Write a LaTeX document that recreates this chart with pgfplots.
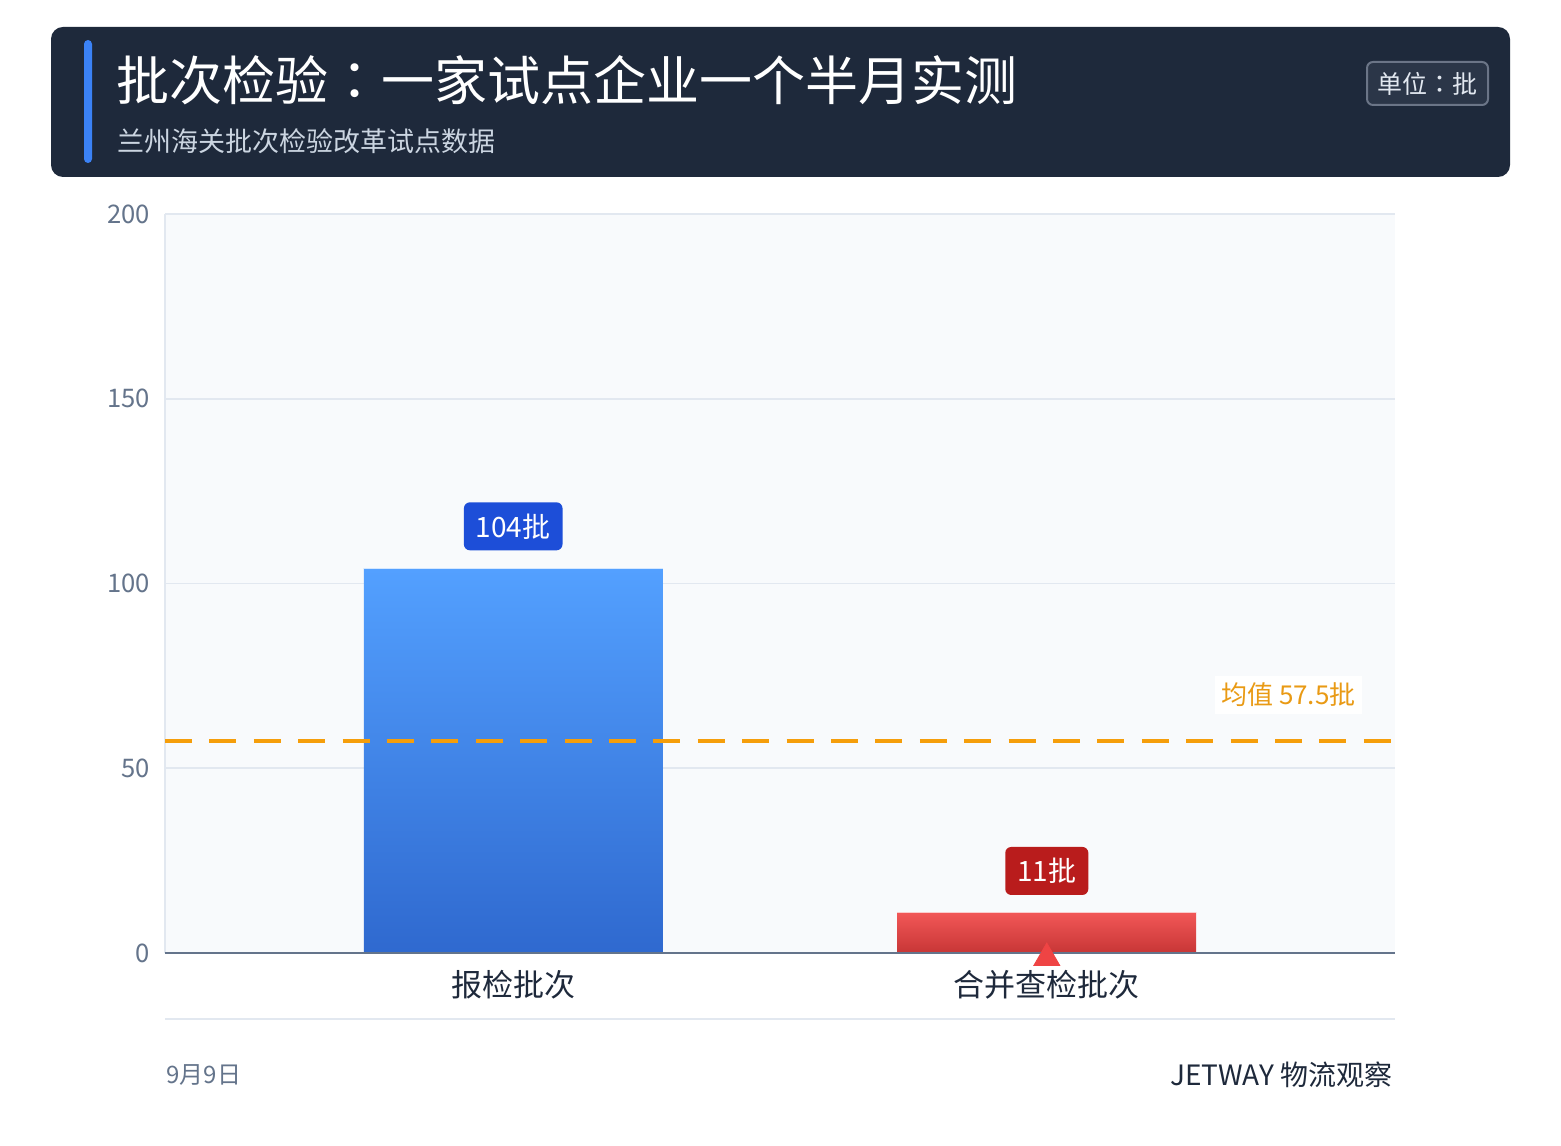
\documentclass[border=0pt]{standalone}
\usepackage{fontspec}
\setmainfont{Noto Sans CJK SC}
\newfontfamily\tcfont{Noto Sans CJK TC}
\usepackage{pgfplots}
\pgfplotsset{compat=1.18}
\definecolor{headc}{HTML}{1E293B}
\definecolor{accent}{HTML}{3B82F6}
\definecolor{blbox}{HTML}{1D4ED8}
\definecolor{rdbox}{HTML}{B91C1C}
\definecolor{bltop}{HTML}{53A0FF}
\definecolor{blbot}{HTML}{2F69CF}
\definecolor{rdtop}{HTML}{F25757}
\definecolor{rdbot}{HTML}{C73636}
\definecolor{tri}{HTML}{EF4444}
\definecolor{orng}{HTML}{F59E0B}
\definecolor{orngt}{HTML}{E99A14}
\definecolor{bgc}{HTML}{F8FAFC}
\definecolor{gridc}{HTML}{E2E8F0}
\definecolor{axd}{HTML}{64748B}
\definecolor{subc}{HTML}{CBD5E1}
\definecolor{unitfill}{HTML}{2B3648}
\definecolor{unitdraw}{HTML}{6B7587}
\begin{document}
\begin{tikzpicture}[x=0.5pt,y=0.5pt]
\useasboundingbox (0,0) rectangle (1561,1145);
\fill[white] (0,0) rectangle (1561,1145);
% header
\fill[headc, rounded corners=6pt] (51,1118) rectangle (1510,968);
\fill[accent, rounded corners=2pt] (84,1105) rectangle (92,982);
\node[anchor=west, inner sep=0pt, text=white, font=\fontsize{26.5}{30}\selectfont] at (116,1065) {批次检验{\tcfont ：}一家试点企业一个半月实测};
\node[anchor=west, inner sep=0pt, text=subc, font=\fontsize{13.5}{16}\selectfont] at (117,1004) {兰州海关批次检验改革试点数据};
\draw[unitdraw, fill=unitfill, line width=1pt, rounded corners=3pt] (1367,1083) rectangle (1488,1040);
\node[text=gridc, inner sep=0pt, font=\fontsize{12.5}{15}\selectfont] at (1427.5,1061.5) {单位{\tcfont ：}批};
% footer
\draw[gridc, line width=1pt] (165,126) -- (1395,126);
\node[anchor=west, inner sep=0pt, text=axd, font=\fontsize{12}{14}\selectfont] at (166,70) {9月9日};
\node[anchor=east, inner sep=0pt, text=headc, font=\fontsize{14}{16}\selectfont] at (1393,70) {JETWAY 物流观察};
\begin{axis}[
  at={(82.5pt,96pt)}, anchor=south west,
  scale only axis, width=615pt, height=369.5pt,
  xmin=-0.6526, xmax=1.6526, ymin=0, ymax=200,
  ytick={0,50,100,150,200},
  xtick={0,1}, xticklabels={报检批次,合并查检批次},
  axis background/.style={fill=bgc},
  ymajorgrids, grid style={gridc, line width=0.8pt},
  axis x line*=bottom, axis y line*=left,
  x axis line style={draw=none},
  y axis line style={draw=gridc, line width=0.8pt},
  axis line style={-},
  major tick length=0pt,
  /pgf/number format/assume math mode=true,
  yticklabel style={font=\fontsize{12.8}{14}\selectfont, text=axd, xshift=-4pt},
  xticklabel style={font=\fontsize{15.5}{18}\selectfont, text=headc, yshift=-5pt},
  clip=false,
]
\addplot[ybar, bar width=0.56, bar shift=0pt, draw=none, top color=bltop, bottom color=blbot] coordinates {(0,104)};
\addplot[ybar, bar width=0.56, bar shift=0pt, draw=none, top color=rdtop, bottom color=rdbot] coordinates {(1,11)};
\addplot[color=white!75!bltop, line width=0.6pt] coordinates {(-0.28,104) (0.28,104)};
\addplot[color=white!70!rdtop, line width=0.6pt] coordinates {(0.72,11) (1.28,11)};
\addplot[orng, line width=2pt, dash pattern=on 13.5pt off 8.7pt] coordinates {(-0.6526,57.5) (1.6526,57.5)};
\addplot[axd, line width=1pt] coordinates {(-0.6526,0) (1.6526,0)};
\addplot[only marks, mark=triangle*, mark size=7.5pt, color=tri, mark options={yshift=-2.5pt}] coordinates {(1,0)};
\node[anchor=south, yshift=9pt, fill=blbox, text=white, rounded corners=3pt, minimum height=24pt, inner xsep=6pt, font=\fontsize{14}{16}\selectfont] at (axis cs:0,104) {104批};
\node[anchor=south, yshift=8.5pt, fill=rdbox, text=white, rounded corners=3pt, minimum height=24pt, inner xsep=6pt, font=\fontsize{14}{16}\selectfont] at (axis cs:1,11) {11批};
\node[anchor=east, xshift=-16.5pt, fill=white, text=orngt, inner xsep=3pt, font=\fontsize{13}{15}\selectfont] at (axis cs:1.6526,69.8) {均值 57.5批};
\end{axis}
\end{tikzpicture}
\end{document}
